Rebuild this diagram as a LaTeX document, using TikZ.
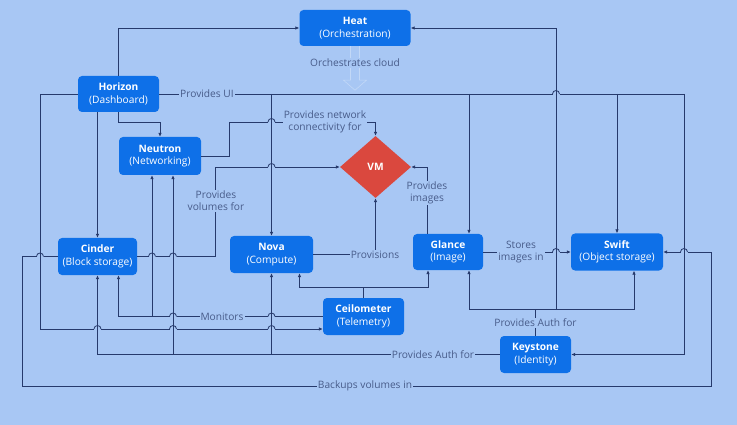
\documentclass[tikz,border=0pt]{standalone}
\usepackage{fontspec}
\setmainfont{Open Sans}
\usetikzlibrary{arrows.meta,shapes.geometric}
\definecolor{bg}{RGB}{168,199,244}
\definecolor{boxblue}{RGB}{14,112,232}
\definecolor{vmred}{RGB}{218,72,62}
\definecolor{wirecol}{RGB}{38,58,108}
\definecolor{labelcol}{RGB}{72,92,138}
\tikzset{
	svc/.style={rectangle, rounded corners=4pt, fill=boxblue, text=white, align=center,
		inner sep=0pt, font=\fontsize{10.2}{12.5}\selectfont},
	plain/.style={draw=wirecol, line width=0.8pt},
	link/.style={plain, -{Latex[length=4pt,width=3.6pt]}},
	lbl/.style={fill=bg, text=labelcol, align=center, inner sep=1pt,
		font=\fontsize{10.2}{12}\selectfont},
	faint/.style={draw=white!30!bg, line width=0.6pt}
}
\begin{document}
\begin{tikzpicture}[x=1pt,y=-1pt]
		\useasboundingbox[fill=bg] (0,0) rectangle (737,425);
		% services
		\node[svc, minimum width=111pt, minimum height=36pt] (heat) at (355,28) {\textbf{Heat}\\(Orchestration)};
		\node[svc, minimum width=81pt, minimum height=36pt] (horizon) at (118.5,94) {\textbf{Horizon}\\(Dashboard)};
		\node[svc, minimum width=82pt, minimum height=38pt] (neutron) at (160,156) {\textbf{Neutron}\\(Networking)};
		\node[diamond, aspect=1.15, fill=vmred, text=white, inner sep=0pt, minimum width=71pt, minimum height=62pt,
			font=\fontsize{10.2}{12}\selectfont\bfseries] (vm) at (375.5,167) {VM};
		\node[svc, minimum width=79pt, minimum height=37pt] (cinder) at (97.5,256.5) {\textbf{Cinder}\\(Block storage)};
		\node[svc, minimum width=83pt, minimum height=37pt] (nova) at (271.5,254.5) {\textbf{Nova}\\(Compute)};
		\node[svc, minimum width=70pt, minimum height=36pt] (glance) at (448,252) {\textbf{Glance}\\(Image)};
		\node[svc, minimum width=92pt, minimum height=37pt] (swift) at (617,252) {\textbf{Swift}\\(Object storage)};
		\node[svc, minimum width=81pt, minimum height=37pt] (ceilo) at (363.5,316.5) {\textbf{Ceilometer}\\(Telemetry)};
		\node[svc, minimum width=71pt, minimum height=37pt] (keystone) at (535.5,354.5) {\textbf{Keystone}\\(Identity)};
		\coordinate (uiR) at (684,94);
		\coordinate (cm) at (363.5,287);
		\coordinate (ka) at (535.5,309);
		% horizon
		\draw[link] (horizon.north) |- (heat.west);
		\draw[plain] (horizon.east) -- (uiR);
		\draw[link] (uiR -| nova.north) -- (nova.north);
		\draw[link] (uiR -| 469,0) -- ([xshift=21pt]glance.north);
		\draw[link] (uiR -| swift.north) -- (swift.north);
		\draw[link] (uiR) |- (keystone.east);
		\draw[link] (horizon.west) -| (40,329) -- (ceilo.west |- 0,329);
		\draw[link] (horizon.south -| cinder.north) -- (cinder.north);
		\draw[link] (horizon.south) -- ++(0,10) -| (neutron.north);
		\draw[faint] ([xshift=-4.5pt]heat.south) -- ++(0,34) -- ++(-7,0) -- ++(11.5,10) -- ++(11.5,-10) -- ++(-7,0) -- ([xshift=4.5pt]heat.south);
		% vm
		\draw[link] (neutron.east) -| (229,122) -| (vm.north);
		\draw[link] (cinder.east) -| (215,167) -- (vm.west);
		\draw[link] (nova.east) -| (vm.south);
		\draw[link] ([xshift=-21pt]glance.north) |- (vm.east);
		\draw[link] (glance.east) -- (swift.west);
		\draw[link] (cinder.west) -| (22,386) -| (swift.east -| 711,0) -- (swift.east);
		% ceilometer
		\draw[plain] (ceilo.north) -- (cm);
		\draw[link] (cm) -| ([xshift=28pt]nova.south);
		\draw[link] (cm) -| ([xshift=-20pt]glance.south);
		\draw[link] (ceilo.west) -| ([xshift=21pt]cinder.south);
		\draw[link] (ceilo.west -| 152,0) -- ([xshift=-8pt]neutron.south);
		% keystone
		\draw[link] (keystone.west) -| (cinder.south);
		\draw[link] (keystone.west -| 173,0) -- ([xshift=13pt]neutron.south);
		\draw[link] (keystone.west -| nova.south) -- (nova.south);
		\draw[plain] (keystone.north) -- (ka);
		\draw[link] (ka) -| ([xshift=21pt]glance.south);
		\draw[link] (ka) -| ([xshift=17pt]swift.south);
		\draw[link] (ka -| 556,0) |- (heat.east);
		% line jumps
		\foreach \hx/\hy in {40/256.5, 152/256.5, 173/256.5, 97.5/329, 173/329, 271.5/329, 173/316.5,
			271.5/316.5, 271.5/122, 271.5/167, 556/94, 556/252, 684/252} {
			\fill[bg] (\hx-3.5,\hy-1.3) rectangle (\hx+3.5,\hy+1.3);
			\draw[plain] (\hx,\hy-2) -- (\hx,\hy+2);
			\draw[plain] (\hx-3.5,\hy) arc[start angle=180, end angle=0, radius=3.5pt];
		}
		% labels
		\node[lbl] (ui) at (207,94) {Provides UI};
		\node[lbl] (orch) at (355,63) {Orchestrates cloud};
		\node[lbl] (net) at (325,122) {Provides network\\connectivity for};
		\node[lbl] (vol) at (216,201) {Provides\\volumes for};
		\node[lbl] (img) at (427,193) {Provides\\images};
		\node[lbl] (prov) at (375,254.5) {Provisions};
		\node[lbl] (store) at (521,252) {Stores\\images in};
		\node[lbl] (mon) at (222,316.5) {Monitors};
		\node[lbl] (authl) at (433,354.5) {Provides Auth for};
		\node[lbl] (autht) at (535.5,323) {Provides Auth for};
		\node[lbl] (backup) at (365,386) {Backups volumes in};
		\end{tikzpicture}
\end{document}
